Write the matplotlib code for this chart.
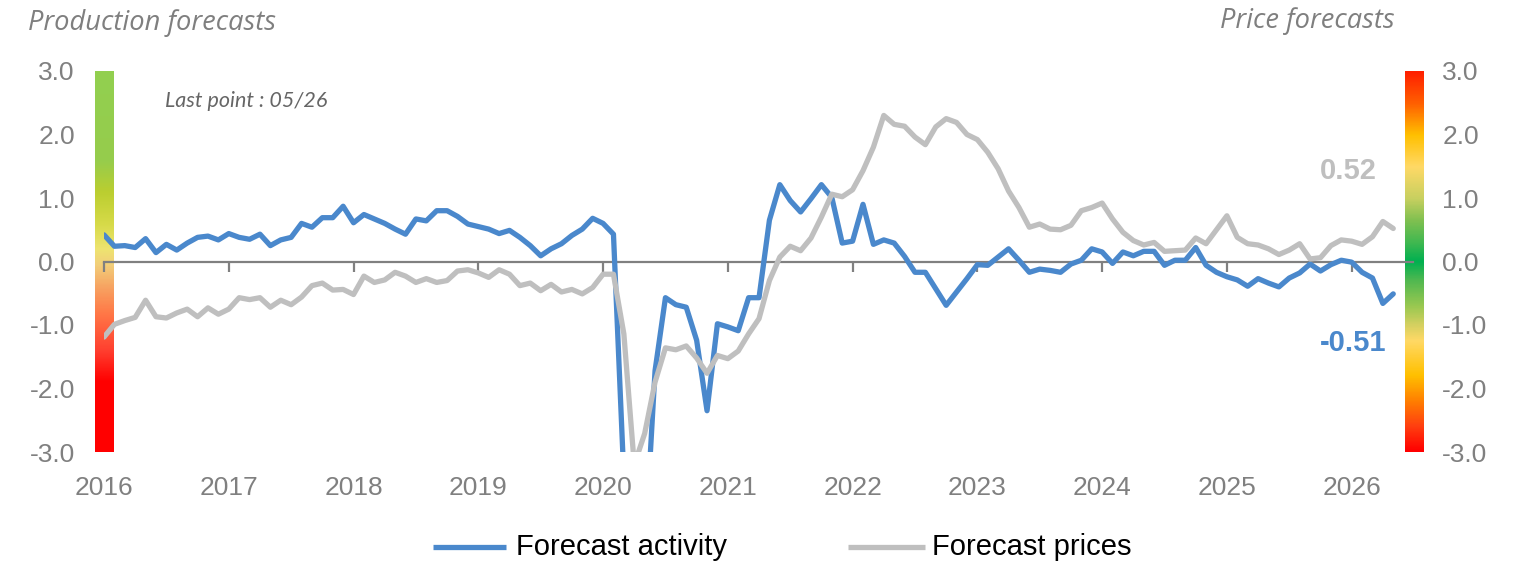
import matplotlib
matplotlib.use("Agg")
import matplotlib.pyplot as plt
import matplotlib.transforms as mtransforms
import numpy as np
import pandas as pd
from matplotlib.colors import LinearSegmentedColormap
from matplotlib.lines import Line2D

# ---------------- data ----------------
months = pd.date_range("2016-01-01", "2026-05-01", freq="MS")

forecast_activity = [
    0.42, 0.24, 0.25, 0.22, 0.36, 0.14, 0.27, 0.18, 0.29, 0.38, 0.40, 0.34,
    0.44, 0.38, 0.35, 0.43, 0.25, 0.34, 0.38, 0.60, 0.54, 0.69, 0.69, 0.87,
    0.61, 0.74, 0.67, 0.60, 0.51, 0.43, 0.67, 0.64, 0.80, 0.80, 0.71, 0.59,
    0.55, 0.51, 0.44, 0.49, 0.38, 0.25, 0.09, 0.20, 0.28, 0.41, 0.51, 0.68,
    0.60, 0.43, -3.40, -6.00, -4.60, -1.72, -0.57, -0.68, -0.72, -1.24, -2.35, -0.98,
    -1.03, -1.09, -0.57, -0.57, 0.65, 1.21, 0.96, 0.78, 0.99, 1.21, 1.01, 0.29,
    0.32, 0.90, 0.27, 0.34, 0.29, 0.08, -0.17, -0.17, -0.43, -0.69, -0.48, -0.27,
    -0.05, -0.06, 0.07, 0.20, 0.02, -0.17, -0.12, -0.14, -0.17, -0.04, 0.02, 0.20,
    0.15, -0.03, 0.15, 0.09, 0.16, 0.16, -0.06, 0.02, 0.02, 0.22, -0.06, -0.17,
    -0.24, -0.29, -0.39, -0.27, -0.34, -0.40, -0.26, -0.18, -0.04, -0.15, -0.05, 0.02,
    -0.01, -0.17, -0.26, -0.66, -0.51,
]

forecast_prices = [
    -1.19, -0.99, -0.93, -0.88, -0.61, -0.87, -0.89, -0.81, -0.75, -0.87, -0.73, -0.83,
    -0.75, -0.57, -0.60, -0.57, -0.72, -0.61, -0.68, -0.56, -0.38, -0.34, -0.45, -0.44,
    -0.52, -0.23, -0.33, -0.29, -0.17, -0.23, -0.33, -0.27, -0.33, -0.30, -0.15, -0.13,
    -0.18, -0.25, -0.13, -0.20, -0.38, -0.34, -0.46, -0.36, -0.48, -0.44, -0.51, -0.41,
    -0.20, -0.20, -1.14, -3.20, -2.71, -1.90, -1.36, -1.39, -1.33, -1.52, -1.76, -1.48,
    -1.53, -1.41, -1.14, -0.90, -0.30, 0.07, 0.24, 0.17, 0.37, 0.70, 1.06, 1.02,
    1.13, 1.43, 1.80, 2.30, 2.16, 2.13, 1.96, 1.84, 2.12, 2.25, 2.19, 2.00,
    1.92, 1.72, 1.46, 1.11, 0.85, 0.54, 0.59, 0.51, 0.50, 0.57, 0.80, 0.85,
    0.92, 0.67, 0.46, 0.33, 0.26, 0.30, 0.16, 0.17, 0.18, 0.37, 0.28, 0.50,
    0.72, 0.38, 0.28, 0.26, 0.20, 0.11, 0.18, 0.28, 0.04, 0.06, 0.25, 0.34,
    0.32, 0.27, 0.39, 0.63, 0.52,
]

year_labels = [str(y) for y in range(2016, 2027)]
y_ticks = [3.0, 2.0, 1.0, 0.0, -1.0, -2.0, -3.0]
y_tick_labels = ["3.0", "2.0", "1.0", "0.0", "-1.0", "-2.0", "-3.0"]
series_names = ["Forecast activity", "Forecast prices"]
last_activity_label = "-0.51"
last_prices_label = "0.52"

# ---------------- style ----------------
BLUE = "#4A88CC"
GREY = "#BFBFBF"
AXGREY = "#808080"
SANS = ["Liberation Sans", "DejaVu Sans"]
plt.rcParams["font.family"] = SANS

W, H = 1536, 572
fig = plt.figure(figsize=(W / 100, H / 100), dpi=100)


def fx(px):
    return px / W


def fy(py):
    return 1 - py / H


# gradient bars
left_cmap = LinearSegmentedColormap.from_list("left", [
    (0.00, "#FF0000"), ((1.1) / 6, "#FF0000"), ((1.6) / 6, "#FF4030"),
    ((2.2) / 6, "#FF7A48"), ((2.6) / 6, "#F7A462"), ((2.95) / 6, "#F2CF7A"),
    ((3.2) / 6, "#EEE470"), ((3.6) / 6, "#D6DA48"), ((4.1) / 6, "#BBCE30"),
    ((4.6) / 6, "#96CC4C"), (1.00, "#92D050")])
right_cmap = LinearSegmentedColormap.from_list("right", [
    (0.00, "#FF0000"), ((0.4) / 6, "#FF4010"), ((0.8) / 6, "#FF8000"),
    ((1.2) / 6, "#FFC000"), ((1.75) / 6, "#FFD966"), ((2.0) / 6, "#D4D060"),
    ((2.3) / 6, "#98C850"), ((2.7) / 6, "#50B850"), ((3.0) / 6, "#00B050"),
    ((3.3) / 6, "#40B850"), ((3.65) / 6, "#80C050"), ((4.0) / 6, "#C8D060"),
    ((4.5) / 6, "#FFD966"), ((5.0) / 6, "#FFC000"), ((5.5) / 6, "#FF6000"),
    (1.00, "#FF2000")])
grad = np.linspace(-3, 3, 600).reshape(-1, 1)
for x0, cmap in [(95, left_cmap), (1405, right_cmap)]:
    bax = fig.add_axes([fx(x0), fy(452), 19 / W, 381 / H])
    bax.imshow(grad, cmap=cmap, origin="lower", aspect="auto",
               extent=[0, 1, -3, 3], vmin=-3, vmax=3, interpolation="bilinear")
    bax.set_axis_off()

# main axes
ax = fig.add_axes([fx(104), fy(452), 1309 / W, 381 / H])
ax.patch.set_alpha(0)
x = np.arange(len(months))
ax.plot(x, forecast_activity, color=BLUE, lw=3.8, solid_joinstyle="round",
        solid_capstyle="round", zorder=3)
ax.plot(x, forecast_prices, color=GREY, lw=3.8, solid_joinstyle="round",
        solid_capstyle="round", zorder=4)
ax.set_xlim(0, 125.9)
ax.set_ylim(-3, 3)

for s in ["top", "left", "right"]:
    ax.spines[s].set_visible(False)
ax.spines["bottom"].set_position(("data", 0))
ax.spines["bottom"].set_color(AXGREY)
ax.spines["bottom"].set_linewidth(1.6)
ax.spines["bottom"].set_zorder(2)
year_pos = [i for i, d in enumerate(months) if d.month == 1]
ax.set_xticks(year_pos)
ax.tick_params(axis="x", direction="out", length=7, width=1.6, color=AXGREY,
               labelbottom=False)
ax.set_yticks(y_ticks)
ax.set_yticklabels(y_tick_labels)
ax.tick_params(axis="y", length=0, pad=21, labelsize=19, labelcolor=AXGREY,
               labelleft=True, labelright=True, left=False, right=False)

trans = mtransforms.blended_transform_factory(ax.transData, fig.transFigure)
for p, lab in zip(year_pos, year_labels):
    ax.text(p, fy(488), lab, transform=trans, ha="center", va="center",
            fontsize=19, color=AXGREY, clip_on=False)

# end labels
ax.text(119.7, 1.42, last_prices_label, color=GREY, fontsize=21, fontweight="bold",
        ha="center", va="center")
ax.text(120.1, -1.28, last_activity_label, color=BLUE, fontsize=21, fontweight="bold",
        ha="center", va="center")

# titles and notes
fig.text(fx(28), fy(23), "Production forecasts", fontsize=19.6, style="italic",
         color="#7F7F7F", ha="left", va="center", family=["Open Sans", "DejaVu Sans"])
fig.text(fx(1395), fy(21), "Price forecasts", fontsize=19.6, style="italic",
         color="#7F7F7F", ha="right", va="center", family=["Open Sans", "DejaVu Sans"])
fig.text(fx(165), fy(101), "Last point : 05/26", fontsize=15.5, style="italic",
         color="#666666", ha="left", va="center", family=["Lato", "DejaVu Sans"])

# legend
legend_items = [(433, 506, 516, BLUE, series_names[0]), (848, 925, 932, GREY, series_names[1])]
for x1, x2, xt, col, name in legend_items:
    fig.add_artist(Line2D([fx(x1), fx(x2)], [fy(547), fy(547)], color=col, lw=3.8,
                          transform=fig.transFigure, solid_capstyle="butt"))
    fig.text(fx(xt), fy(547), name, fontsize=21, color="black", ha="left", va="center")

fig.savefig("out.png", dpi=100)
